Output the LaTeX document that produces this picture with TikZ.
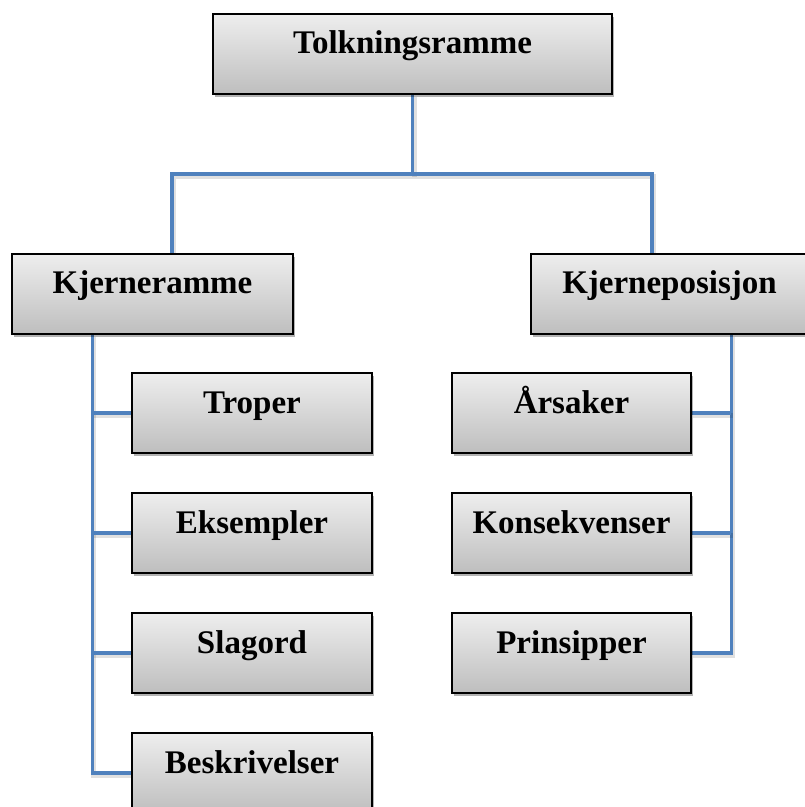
\documentclass[tikz,border=0pt]{standalone}
\usepackage{fontspec}
\setmainfont{Liberation Serif}
\usetikzlibrary{shadows,calc}

\definecolor{linkblue}{RGB}{79,129,189}
\definecolor{boxtop}{RGB}{238,238,238}
\definecolor{boxmid}{RGB}{214,214,214}
\definecolor{boxbot}{RGB}{190,190,190}

\pgfdeclarelayer{links}
\pgfsetlayers{links,main}

\tikzset{
  box/.style={draw=black, line width=1.3pt, inner sep=0pt, minimum height=80pt,
    top color=boxtop, bottom color=boxbot, middle color=boxmid,
    drop shadow={opacity=0.3, shadow xshift=2pt, shadow yshift=-3pt, fill=black}},
  lbl/.style={anchor=base, inner sep=0pt, font=\fontsize{33}{39}\selectfont\bfseries},
  link/.style={draw=linkblue, line width=3.5pt,
    preaction={draw=black, opacity=0.12, line width=5pt,
      transform canvas={xshift=1.5pt, yshift=-2.5pt}}},
}

\begin{document}
\begin{tikzpicture}[x=1pt, y=-1pt]
  \useasboundingbox (0,0) rectangle (805,807);
  \clip (0,0) rectangle (805,807);

  % boxes (centre, width)
  \node[box, minimum width=399pt] (top) at (412.5,54) {};
  \node[box, minimum width=281pt] (kr)  at (152.5,294) {};
  \node[box, minimum width=281pt] (kp)  at (671.5,294) {};
  \node[box, minimum width=240pt] (tr)  at (252,413) {};
  \node[box, minimum width=240pt] (ek)  at (252,533) {};
  \node[box, minimum width=240pt] (sl)  at (252,653) {};
  \node[box, minimum width=240pt] (be)  at (252,773) {};
  \node[box, minimum width=239pt] (ar)  at (571.5,413) {};
  \node[box, minimum width=239pt] (ko)  at (571.5,533) {};
  \node[box, minimum width=239pt] (pr)  at (571.5,653) {};

  % connectors, kept beneath the boxes
  \coordinate (busL) at (172,174);
  \coordinate (busR) at (652,174);
  \coordinate (lsp) at ($(kr.south west)+(81,0)$);
  \coordinate (rsp) at ($(kp.south west)+(201,0)$);

  \begin{pgfonlayer}{links}
  \draw[link] (top.south) -- (top.south |- busL);
  \draw[link] (busL |- kr.north) -- (busL) -- (busR) -- (busR |- kp.north);
  \draw[link] (lsp) |- (be.west);
  \draw[link] (lsp |- tr.west) -- (tr.west);
  \draw[link] (lsp |- ek.west) -- (ek.west);
  \draw[link] (lsp |- sl.west) -- (sl.west);
  \draw[link] (rsp) |- (pr.east);
  \draw[link] (rsp |- ar.east) -- (ar.east);
  \draw[link] (rsp |- ko.east) -- (ko.east);
  \end{pgfonlayer}

  % labels
  \node[lbl] (ttop) at ($(top.center)+(0,-1)$) {Tolkningsramme};
  \node[lbl] (tkr)  at ($(kr.center)+(0,-1)$) {Kjerneramme};
  \node[lbl] (tkp)  at ($(kp.center)+(-2,-1)$) {Kjerneposisjon};
  \node[lbl] (ttr)  at (tr.center) {Troper};
  \node[lbl] (tek)  at (ek.center) {Eksempler};
  \node[lbl] (tsl)  at (sl.center) {Slagord};
  \node[lbl] (tbe)  at (be.center) {Beskrivelser};
  \node[lbl] (tar)  at (ar.center) {Årsaker};
  \node[lbl] (tko)  at (ko.center) {Konsekvenser};
  \node[lbl] (tpr)  at (pr.center) {Prinsipper};
\end{tikzpicture}
\end{document}
